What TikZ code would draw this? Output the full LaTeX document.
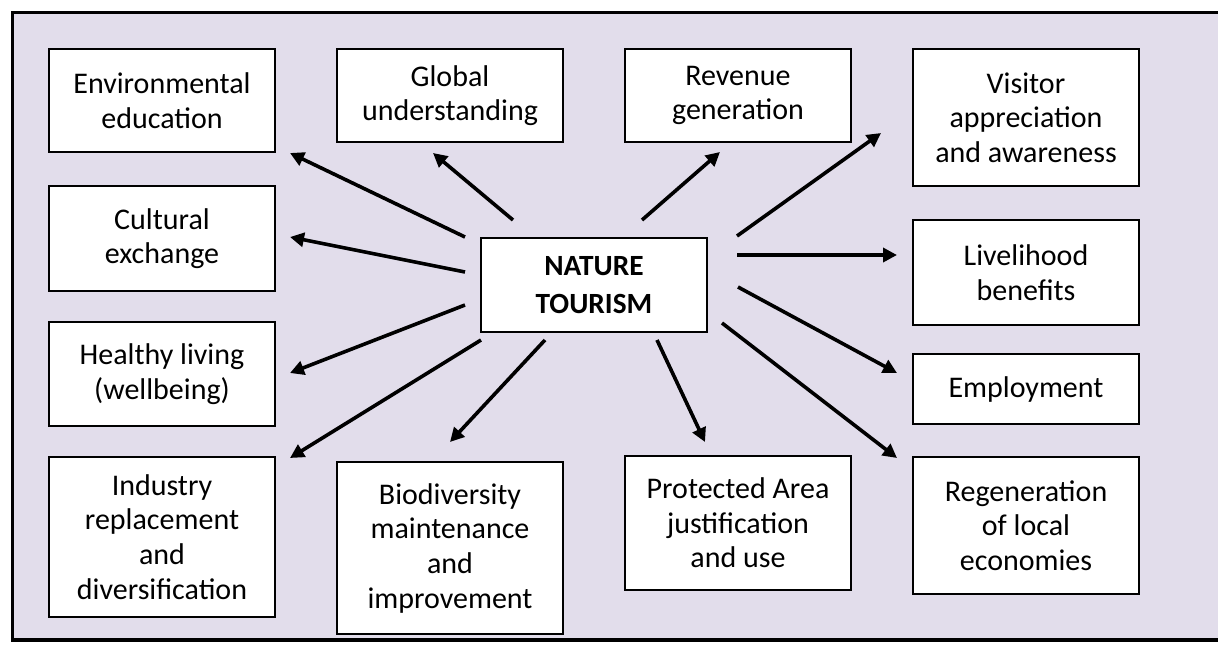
\documentclass[tikz,border=0pt]{standalone}
\usepackage{fontspec}
\setmainfont{Carlito}
\usetikzlibrary{arrows.meta}
\definecolor{lilac}{RGB}{226,221,235}
\begin{document}
\begin{tikzpicture}[x=0.75pt,y=-0.75pt,
  box/.style={draw=black, fill=white, line width=1.4pt, inner sep=0pt,
    minimum width=169.5pt, align=center,
    font=\fontsize{22.5}{26}\selectfont},
  arr/.style={line width=2.7pt, -{Triangle[length=10.5pt,width=10.5pt]}},
  frame/.style={draw=black, fill=lilac, line width=2.4pt}
]
\useasboundingbox (0,0) rectangle (1218,644);
\begin{scope}
\clip (0,0) rectangle (1218,644);
\draw[frame] (12.5,12.5) rectangle (1300,640);
\end{scope}

% left column
\node[box, minimum height=77.25pt] (env) at (162,100.5) {Environmental\\education};
\node[box, minimum height=78.75pt] (cult) at (162,238.5) {Cultural\\exchange};
\node[box, minimum height=78pt] (heal) at (162,374) {Healthy living\\(wellbeing)};
\node[box, minimum height=120pt] (ind) at (162,537) {Industry\\replacement\\and\\diversification};
% second column
\node[box, minimum height=69.75pt] (glob) at (450,95.5) {Global\\understanding};
\node[box, minimum height=129pt] (bio) at (450,548) {Biodiversity\\maintenance\\and\\improvement};
% third column
\node[box, minimum height=69.75pt] (rev) at (738,95.5) {Revenue\\generation};
\node[box, minimum height=100.5pt] (prot) at (738,523) {Protected Area\\justification\\and use};
% fourth column
\node[box, minimum height=102.75pt] (vis) at (1026,117.5) {Visitor\\appreciation\\and awareness};
\node[box, minimum height=78.75pt] (live) at (1026,272.5) {Livelihood\\benefits};
\node[box, minimum height=52.5pt] (emp) at (1026,389) {Employment};
\node[box, minimum height=102.75pt] (reg) at (1026,525.5) {Regeneration\\of local\\economies};
% centre
\node[box, minimum height=70.5pt, font=\fontsize{22}{28}\selectfont\bfseries] (nt) at (594,285) {NATURE\\TOURISM};

% arrow end points
\coordinate (s-env) at (465,237);  \coordinate (e-env) at (290,153);
\coordinate (s-glob) at (513,220); \coordinate (e-glob) at (433,153);
\coordinate (s-cult) at (465,272); \coordinate (e-cult) at (290,237);
\coordinate (s-heal) at (465,305); \coordinate (e-heal) at (290,373);
\coordinate (s-ind) at (481,340);  \coordinate (e-ind) at (290,458);
\coordinate (s-bio) at (545,340);  \coordinate (e-bio) at (450,442);
\coordinate (s-prot) at (657,340); \coordinate (e-prot) at (705,442);
\coordinate (s-reg) at (722,323);  \coordinate (e-reg) at (897,458);
\coordinate (s-emp) at (738,287);  \coordinate (e-emp) at (897,373);
\coordinate (s-live) at (737,255); \coordinate (e-live) at (897,255);
\coordinate (s-vis) at (737,236);  \coordinate (e-vis) at (881,133);
\coordinate (s-rev) at (642,220);  \coordinate (e-rev) at (720,152);

\foreach \n in {env,glob,cult,heal,ind,bio,prot,reg,emp,live,vis,rev}
  \draw[arr] (s-\n) -- (e-\n);
\end{tikzpicture}
\end{document}
